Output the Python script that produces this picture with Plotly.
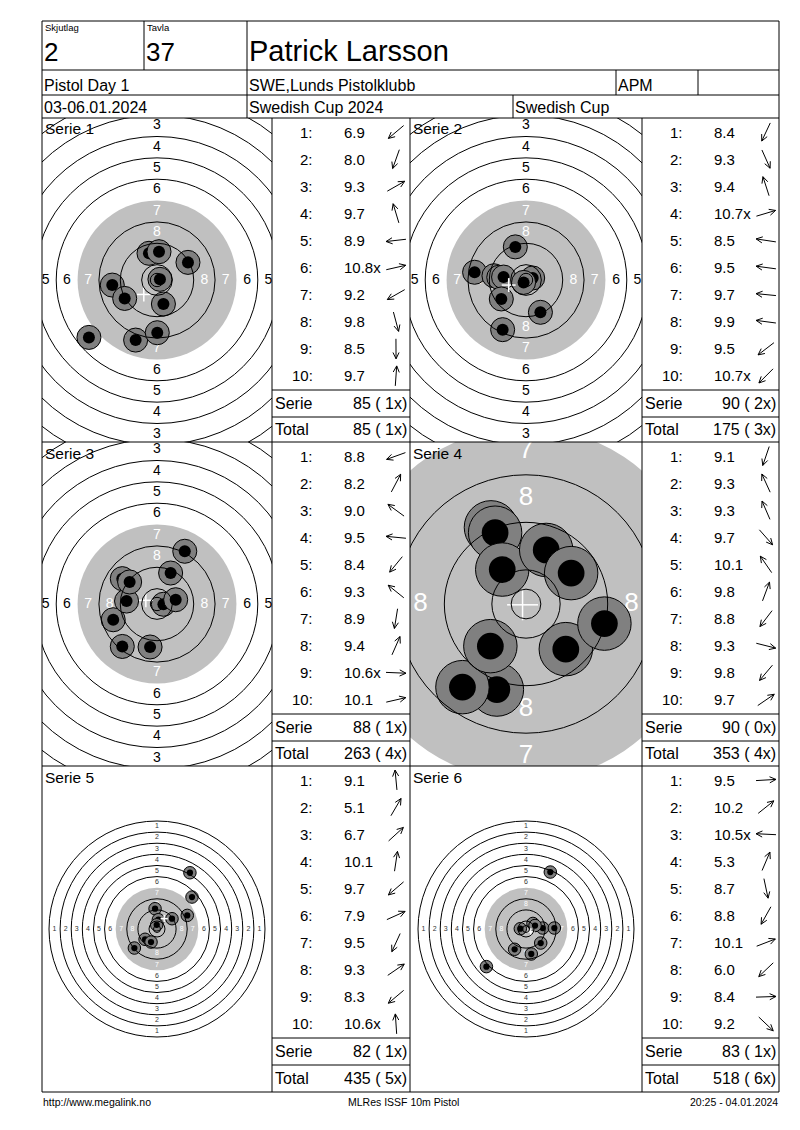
import math
import plotly.graph_objects as go

W, H = 800, 1130
FONT = "Liberation Sans, Arial, sans-serif"

# header / footer texts
shooting_group = "2"
target_no = "37"
shooter = "Patrick Larsson"
event = "Pistol Day 1"
club = "SWE,Lunds Pistolklubb"
shooter_class = "APM"
dates = "03-06.01.2024"
competition = "Swedish Cup 2024"
cup = "Swedish Cup"
footer_left = "http://www.megalink.no"
footer_mid = "MLRes ISSF 10m Pistol"
footer_right = "20:25 - 04.01.2024"

# shots: decimal score ("x" = inner ten) and hit position in mm from centre
serie1_scores = ["6.9", "8.0", "9.3", "9.7", "8.9", "10.8x", "9.2", "9.8", "8.5", "9.7"]
serie1_x = [-25.5, -8.0, 11.6, -3.0, -16.75, 1.1, -12.1, 2.4, 0.1, 0.75]
serie1_y = [-21.5, -22.5, 6.6, 10.0, -1.9, 0.25, -6.9, -9.0, -19.75, 10.6]

serie2_scores = ["8.4", "9.3", "9.4", "10.7x", "8.5", "9.5", "9.7", "9.9", "9.5", "10.7x"]
serie2_x = [-8.75, 5.4, -4.0, 2.5, -19.25, -12.0, -10.2, -8.4, -9.25, -0.9]
serie2_y = [-18.6, -12.1, 12.4, 0.75, 2.9, 1.6, 1.0, 1.1, -7.1, -0.9]

serie3_scores = ["8.8", "8.2", "9.0", "9.5", "8.4", "9.3", "8.9", "9.4", "10.6x", "10.1"]
serie3_x = [-16.4, 10.4, -13.0, -11.4, -13.0, -10.25, -2.6, 5.1, 2.4, 7.0]
serie3_y = [-5.9, 19.75, 9.5, 1.1, -15.9, 8.25, -16.1, 11.6, -0.1, 1.6]

serie4_scores = ["9.1", "9.3", "9.3", "9.7", "10.1", "9.8", "8.8", "9.3", "9.8", "9.7"]
serie4_x = [-4.9, -5.9, -5.2, 6.7, -4.0, 3.4, -10.7, 13.2, -6.0, 7.6]
serie4_y = [-14.4, 12.9, 12.0, -7.6, 5.8, 9.1, -14.0, -3.3, -7.1, 5.2]

serie5_scores = ["9.1", "5.1", "6.7", "10.1", "9.7", "7.9", "9.5", "9.3", "8.3", "10.6x"]
serie5_x = [-1.4, 23.7, 25.2, 1.0, -8.6, 21.8, -4.3, 10.8, -16.3, -0.2]
serie5_y = [14.6, 40.5, 23.0, 6.7, -7.4, 9.8, -9.4, 7.4, -13.7, 3.0]

serie6_scores = ["9.5", "10.2", "10.5x", "5.3", "8.7", "8.8", "10.1", "6.0", "8.4", "9.2"]
serie6_x = [12.0, 5.0, -4.1, 17.5, 3.8, -8.2, 6.5, -28.5, 20.4, 10.6]
serie6_y = [0.7, 4.0, 0.2, 41.0, -18.0, -14.6, 2.5, -27.1, 0.7, -10.1]

series = [
    (serie1_scores, serie1_x, serie1_y),
    (serie2_scores, serie2_x, serie2_y),
    (serie3_scores, serie3_x, serie3_y),
    (serie4_scores, serie4_x, serie4_y),
    (serie5_scores, serie5_x, serie5_y),
    (serie6_scores, serie6_x, serie6_y),
]

# page geometry in px
target_left = [42, 410]
target_right = [272, 642]
score_right = [410, 779]
row_top = [118, 442, 766]
row_bottom = [442, 766, 1092]
px_per_mm = [2.67, 2.67, 2.67, 5.94, 1.389, 1.389]
label_size = [14, 14, 14, 26, 7, 7]

# ISSF 10m pistol target (mm)
ring_r = {n: 5.75 + 8 * (10 - n) for n in range(1, 11)}
inner_ten = 2.5
pellet_d = 4.5
halo_d = 9.0


def px(x):
    return x / W


def py(y):
    return 1 - y / H


shapes = []
annotations = []


def text(x, y, s, size, anchor="left", color="black"):
    annotations.append(dict(x=px(x), y=py(y), xref="paper", yref="paper", text=s,
                            showarrow=False, xanchor=anchor, yanchor="middle",
                            font=dict(family=FONT, size=size, color=color)))


def line(x0, y0, x1, y1):
    shapes.append(dict(type="line", xref="paper", yref="paper",
                       x0=px(x0), y0=py(y0), x1=px(x1), y1=py(y1),
                       line=dict(color="black", width=1), layer="above"))


fig = go.Figure()

# header table
line(42, 21, 779, 21)
line(42, 70, 779, 70)
line(42, 95, 779, 95)
line(144, 21, 144, 70)
line(247, 21, 247, 118)
line(616, 70, 616, 95)
line(698, 70, 698, 95)
line(513, 95, 513, 118)

text(43, 28, "Skjutlag", 9.5)
text(145, 28, "Tavla", 9.5)
text(42, 52, shooting_group, 26)
text(144, 52, target_no, 26)
text(247, 51, shooter, 29)
text(42, 85, event, 16)
text(247, 85, club, 16)
text(616, 85, shooter_class, 16)
text(42, 108, dates, 16)
text(247, 108, competition, 16)
text(513, 108, cup, 16)

# panel grid
for yy in row_top + [row_bottom[-1]]:
    line(42, yy, 779, yy)
for xx in [42, 272, 410, 642, 779]:
    line(xx, 21 if xx in (42, 779) else 118, xx, row_bottom[-1])

fig.update_layout(xaxis=dict(domain=[0, 1], range=[0, W], visible=False, fixedrange=True),
                  yaxis=dict(domain=[0, 1], range=[H, 0], visible=False, fixedrange=True))

running_total = 0
running_x = 0
for i, (scores, xs, ys) in enumerate(series):
    row, col = i // 2, i % 2
    tx0, tx1 = target_left[col], target_right[col]
    ty0, ty1 = row_top[row], row_bottom[row]
    s = px_per_mm[i]
    k = i + 2
    xa, ya = "x%d" % k, "y%d" % k
    hx = (tx1 - tx0) / 2 / s
    hy = (ty1 - ty0) / 2 / s
    fig.update_layout(**{
        "xaxis%d" % k: dict(domain=[px(tx0), px(tx1)], range=[-hx, hx], visible=False, fixedrange=True),
        "yaxis%d" % k: dict(domain=[py(ty1), py(ty0)], range=[-hy, hy], visible=False, fixedrange=True),
    })

    # black aiming area (grey on the print)
    r7 = ring_r[7]
    shapes.append(dict(type="circle", xref=xa, yref=ya, x0=-r7, x1=r7, y0=-r7, y1=r7,
                       fillcolor="#c0c0c0", line=dict(width=0), layer="below"))
    # ring lines
    for r in [ring_r[n] for n in (1, 2, 3, 4, 5, 6, 8, 9, 10)] + [inner_ten]:
        shapes.append(dict(type="circle", xref=xa, yref=ya, x0=-r, x1=r, y0=-r, y1=r,
                           line=dict(color="black", width=1), layer="above"))

    # ring numbers
    lx, ly, lt, lc = [], [], [], []
    dark = "#333333" if s < 2 else "black"
    for n in range(1, 9):
        rl = ring_r[n] - 4
        for ux, uy in [(0, 1), (0, -1), (-1, 0), (1, 0)]:
            lx.append(ux * rl)
            ly.append(uy * rl)
            lt.append(str(n))
            lc.append("white" if n >= 7 else dark)
    fig.add_trace(go.Scatter(x=lx, y=ly, text=lt, mode="text", xaxis=xa, yaxis=ya,
                             textfont=dict(family=FONT, size=label_size[i], color=lc),
                             hoverinfo="skip"))

    # shots: halo then pellet, in shot order
    mx, my, msize, mcol, mlw = [], [], [], [], []
    for x, y in zip(xs, ys):
        mx += [x, x]
        my += [y, y]
        msize += [halo_d * s, pellet_d * s]
        mcol += ["#808080", "black"]
        mlw += [1, 0]
    fig.add_trace(go.Scatter(x=mx, y=my, mode="markers", xaxis=xa, yaxis=ya,
                             marker=dict(size=msize, color=mcol, opacity=1,
                                         line=dict(color="black", width=mlw)),
                             hoverinfo="skip"))

    # mean point of impact
    cx = sum(xs) / len(xs)
    cy = sum(ys) / len(ys)
    a = 2.6
    fig.add_trace(go.Scatter(x=[cx - a, cx + a, None, cx, cx], y=[cy, cy, None, cy - a, cy + a],
                             mode="lines", xaxis=xa, yaxis=ya,
                             line=dict(color="white", width=1.5), hoverinfo="skip"))

    text(tx0 + 1, ty0 + 11, "Serie %d" % (i + 1), 15.5)

    # score list
    sx0, sx1 = tx1, score_right[col]
    ax_, ay_ = [], []
    for j, sc in enumerate(scores):
        yc = ty0 + 14 + j * 27.1
        text(sx0 + 43, yc, "%d:" % (j + 1), 15, anchor="right")
        text(sx0 + 70, yc, sc, 15)
        th = math.atan2(ys[j], xs[j])
        dx, dy = math.cos(th), -math.sin(th)
        ac = sx0 + 124
        tipx, tipy = ac + 10 * dx, yc + 10 * dy
        ax_ += [ac - 10 * dx, tipx, None]
        ay_ += [yc - 10 * dy, tipy, None]
        for sgn in (1, -1):
            ang = sgn * 0.45
            hx_ = dx * math.cos(ang) - dy * math.sin(ang)
            hy_ = dx * math.sin(ang) + dy * math.cos(ang)
            ax_ += [tipx, tipx - 7 * hx_, None]
            ay_ += [tipy, tipy - 7 * hy_, None]
    fig.add_trace(go.Scatter(x=ax_, y=ay_, mode="lines", xaxis="x", yaxis="y",
                             line=dict(color="black", width=1), hoverinfo="skip"))

    serie_total = sum(int(float(v.rstrip("x"))) for v in scores)
    serie_x = sum(v.endswith("x") for v in scores)
    running_total += serie_total
    running_x += serie_x
    line(sx0, ty0 + 272, sx1, ty0 + 272)
    line(sx0, ty0 + 299, sx1, ty0 + 299)
    text(sx0 + 1, ty0 + 285, "Serie", 16)
    text(sx1 - 1, ty0 + 285, "%d (%2dx)" % (serie_total, serie_x), 16, anchor="right")
    text(sx0 + 1, ty0 + 312, "Total", 16)
    text(sx1 - 1, ty0 + 312, "%d (%2dx)" % (running_total, running_x), 16, anchor="right")

# footer
text(41, 1102, footer_left, 10.5)
text(403, 1102, footer_mid, 10.5, anchor="center")
text(780, 1102, footer_right, 10.5, anchor="right")

fig.update_layout(width=W, height=H, margin=dict(l=0, r=0, t=0, b=0),
                  paper_bgcolor="white", plot_bgcolor="rgba(0,0,0,0)",
                  showlegend=False, shapes=shapes, annotations=annotations)

fig.write_html("out.html", config={"displayModeBar": False},
               post_script="document.body.style.margin='0';")
